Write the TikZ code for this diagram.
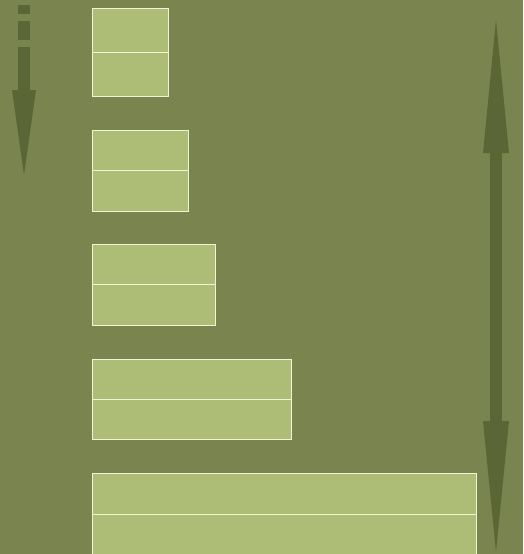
\documentclass[tikz,border=0pt]{standalone}
\definecolor{bg}{HTML}{7A844F}
\definecolor{boxfill}{HTML}{AEBD75}
\definecolor{boxline}{HTML}{F2F2D8}
\definecolor{arr}{HTML}{5A6636}
\tikzset{
  tier/.style={draw=boxline, line width=1pt, fill=boxfill},
  arrbody/.style={fill=arr, draw=none}
}
\begin{document}
\begin{tikzpicture}[x=1pt,y=-1pt]
\fill[bg] (0,0) rectangle (523,554);
\useasboundingbox (0,0) rectangle (523,554);
% tiers
\foreach \n/\r/\t/\b in {t1/168/8/96, t2/188/130/211, t3/215/244/325, t4/291/359/439, t5/476/473/555}{
  \draw[tier] (92,\t) rectangle (\r,\b);
  \draw[boxline, line width=1pt] (92,{(\t+\b)/2}) -- (\r,{(\t+\b)/2});
}
% left dashed arrow
\fill[arrbody] (18,5) rectangle (30,14);
\fill[arrbody] (18,21) rectangle (30,40);
\fill[arrbody] (18,47) rectangle (30,91);
\fill[arrbody] (12,90) -- (36,90) -- (24,175) -- cycle;
% right double arrow
\fill[arrbody] (490,150) rectangle (502,424);
\fill[arrbody] (483,153) -- (509,153) -- (496,20) -- cycle;
\fill[arrbody] (483,421) -- (509,421) -- (496,552) -- cycle;
\end{tikzpicture}
\end{document}
